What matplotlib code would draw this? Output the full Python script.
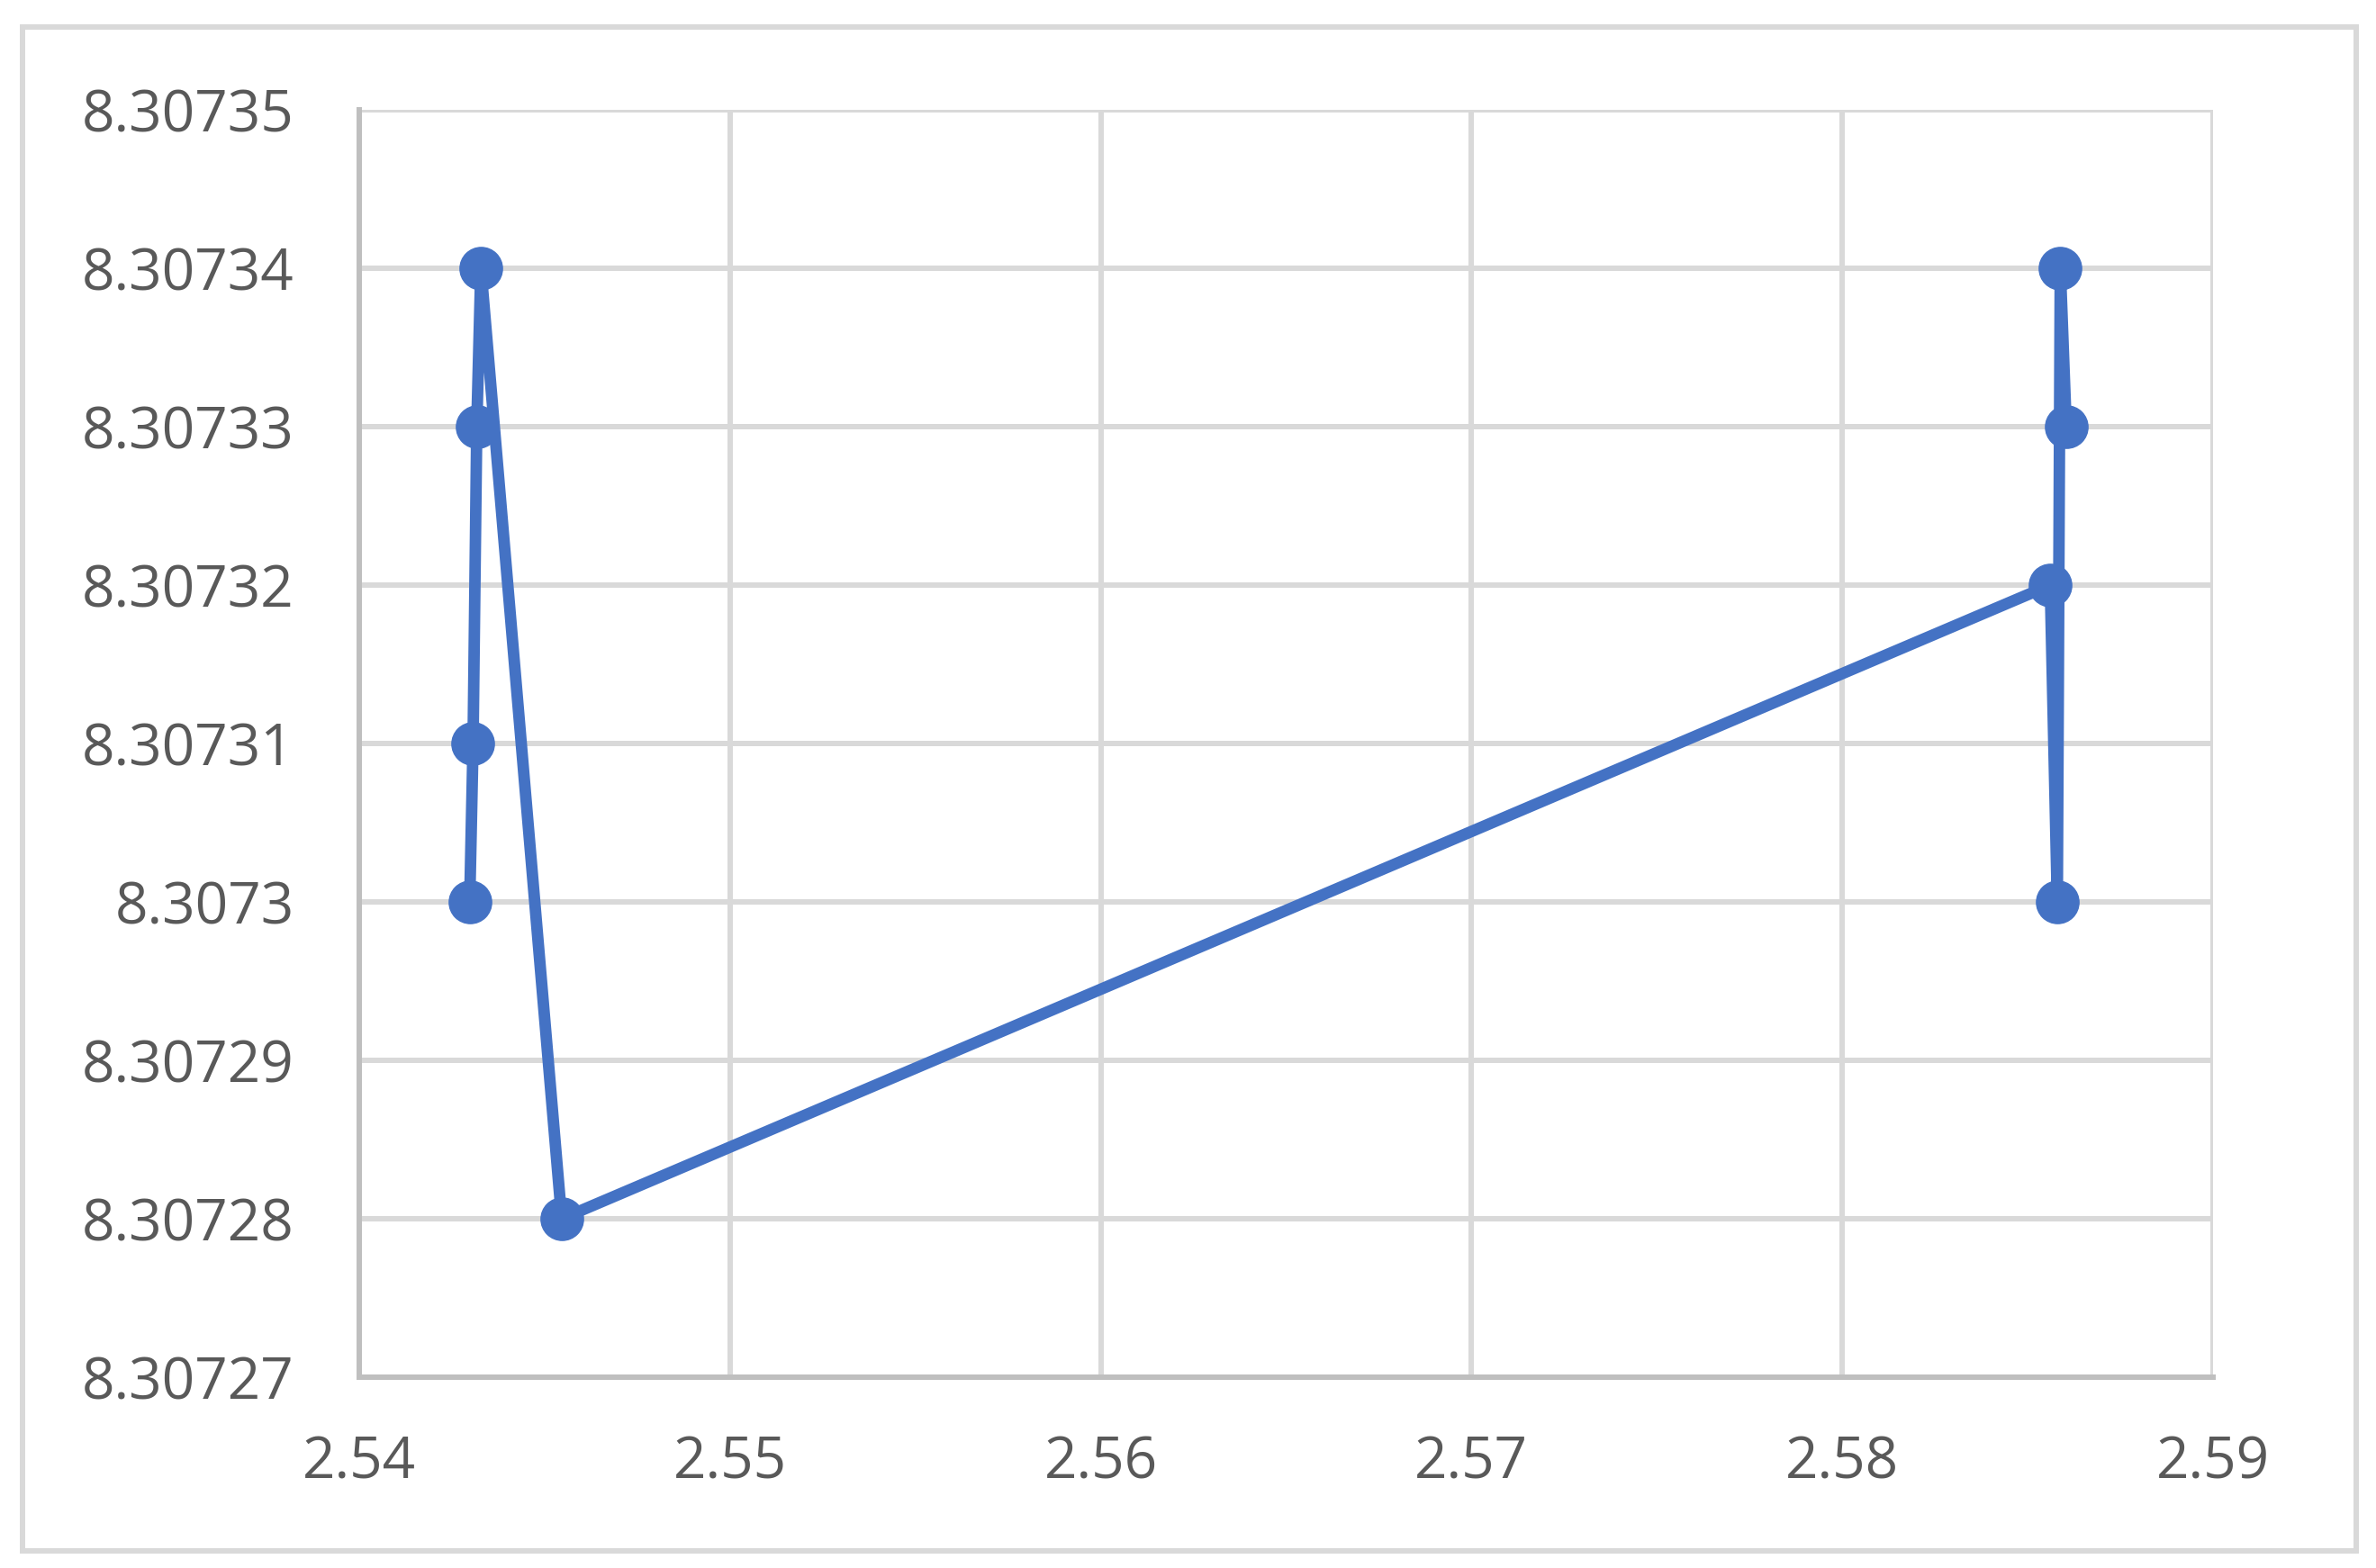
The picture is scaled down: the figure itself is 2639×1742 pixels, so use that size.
import matplotlib
matplotlib.use("Agg")
import matplotlib.pyplot as plt
from matplotlib.patches import Rectangle

# data (path order as drawn)
x_vals = [2.54298, 2.54307, 2.54317, 2.54328, 2.54546, 2.58561, 2.58580, 2.58588, 2.58604]
y_vals = [8.30730, 8.30731, 8.30733, 8.30734, 8.30728, 8.30732, 8.30730, 8.30734, 8.30733]

x_ticks = [2.54, 2.55, 2.56, 2.57, 2.58, 2.59]
x_labels = ["2.54", "2.55", "2.56", "2.57", "2.58", "2.59"]
y_ticks = [8.30727, 8.30728, 8.30729, 8.30730, 8.30731, 8.30732, 8.30733, 8.30734, 8.30735]
y_labels = ["8.30727", "8.30728", "8.30729", "8.3073", "8.30731", "8.30732", "8.30733", "8.30734", "8.30735"]

BLUE = "#4472C4"
GRID = "#D9D9D9"
SPINE = "#BFBFBF"
TEXT = "#595959"

plt.rcParams["font.family"] = ["Open Sans", "DejaVu Sans"]

W, H = 2639, 1742
fig = plt.figure(figsize=(W / 100, H / 100), dpi=100)

# chart area border
fig.patches.append(Rectangle((25 / W, 1 - 1723 / H), (2617 - 25) / W, (1723 - 30) / H,
                             transform=fig.transFigure, fill=False, edgecolor=GRID, lw=4.3))

ax = fig.add_axes([399 / W, 1 - 1530 / H, (2458 - 399) / W, (1530 - 122) / H])
ax.set_xlim(2.54, 2.59)
ax.set_ylim(8.30727, 8.30735)
ax.set_xticks(x_ticks, x_labels)
ax.set_yticks(y_ticks, y_labels)
ax.grid(True, color=GRID, lw=4.3)
ax.set_axisbelow(True)

for side in ["top", "right"]:
    ax.spines[side].set_visible(False)
for side in ["left", "bottom"]:
    ax.spines[side].set_color(SPINE)
    ax.spines[side].set_linewidth(4.3)

ax.tick_params(length=0, labelsize=46, labelcolor=TEXT)
ax.tick_params(axis="y", pad=52)
ax.tick_params(axis="x", pad=46)

ax.plot(x_vals, y_vals, color=BLUE, lw=9.2, marker="o", markersize=34,
        markerfacecolor=BLUE, markeredgecolor=BLUE, clip_on=False)

fig.savefig("out.png", dpi=100)
